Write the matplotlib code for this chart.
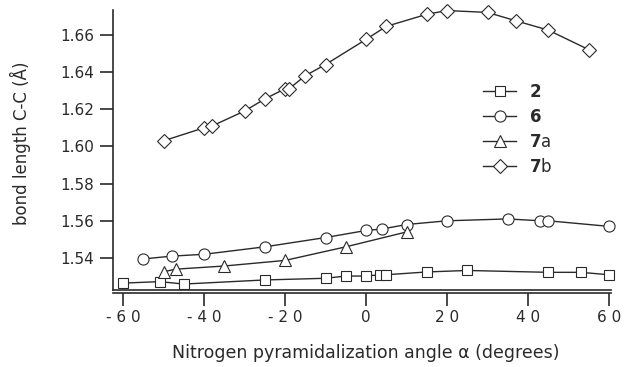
import matplotlib
matplotlib.use("Agg")
import matplotlib.pyplot as plt

plt.rcParams['font.family'] = ['DejaVu Sans']
plt.rcParams['mathtext.fontset'] = 'dejavusans'

# valeurs
angle_2 = [-60, -51, -45, -25, -10, -5, 0, 3.5, 5, 15, 25, 45, 53, 60]
bond_2 = [1.5265, 1.5273, 1.526, 1.5282, 1.5291, 1.5303, 1.5303, 1.531, 1.531,
          1.5325, 1.5333, 1.5323, 1.5323, 1.531]

angle_6 = [-55, -48, -40, -25, -10, 0, 4, 10, 20, 35, 43, 45, 60]
bond_6 = [1.5395, 1.541, 1.542, 1.546, 1.551, 1.5548, 1.5556, 1.558, 1.560,
          1.561, 1.560, 1.560, 1.557]

angle_7a = [-50, -47, -35, -20, -5, 10]
bond_7a = [1.5326, 1.534, 1.5357, 1.5387, 1.546, 1.554]

angle_7b = [-50, -40, -38, -30, -25, -20, -19, -15, -10, 0, 5, 15, 20, 30, 37, 45, 55]
bond_7b = [1.603, 1.610, 1.611, 1.619, 1.6255, 1.631, 1.631, 1.638, 1.644,
           1.6575, 1.6645, 1.671, 1.673, 1.672, 1.6675, 1.6625, 1.652]

x_ticks = [-60, -40, -20, 0, 20, 40, 60]
x_labels = ['- 6 0', '- 4 0', '- 2 0', '0', '2 0', '4 0', '6 0']
y_ticks = [1.54, 1.56, 1.58, 1.60, 1.62, 1.64, 1.66]
y_labels = ['1.54', '1.56', '1.58', '1.60', '1.62', '1.64', '1.66']

fig = plt.figure(figsize=(6.24, 3.67), dpi=100)
ax = fig.add_axes([113 / 624, 1 - 290 / 367, 498 / 624, 280 / 367])

col = '#2a2a2a'
style = dict(color=col, lw=1.0, mfc='white', mec=col, mew=0.8, clip_on=False)
ax.plot(angle_2, bond_2, marker='s', ms=7.5, label=r'$\mathbf{2}$', **style)
ax.plot(angle_6, bond_6, marker='o', ms=8.0, label=r'$\mathbf{6}$', **style)
ax.plot(angle_7a, bond_7a, marker='^', ms=8.0, label=r'$\mathbf{7}$a', **style)
ax.plot(angle_7b, bond_7b, marker='D', ms=7.0, label=r'$\mathbf{7}$b', **style)

ax.set_xlim(-62.5, 60.5)
ax.set_ylim(1.5228, 1.6733)
ax.set_xticks(x_ticks)
ax.set_xticklabels(x_labels)
ax.set_yticks(y_ticks)
ax.set_yticklabels(y_labels)

ax.spines['top'].set_visible(False)
ax.spines['right'].set_visible(False)
ax.spines['bottom'].set_position(('outward', 2.2))
for s in ['left', 'bottom']:
    ax.spines[s].set_linewidth(1.2)
    ax.spines[s].set_color(col)
ax.axhline(1.5228, color=col, lw=1.2, clip_on=False)

ax.tick_params(axis='both', direction='out', length=9.5, width=1.2, color=col,
               labelsize=11, labelcolor=col, pad=3)
ax.tick_params(axis='y', pad=4)

ax.set_xlabel('Nitrogen pyramidalization angle α (degrees)', fontsize=12.5, color=col)
ax.xaxis.set_label_coords(0.508, -0.193)
ax.set_ylabel('bond length C-C (Å)', fontsize=12, color=col)
ax.yaxis.set_label_coords(-0.165, 0.525)

leg = ax.legend(loc='upper left', bbox_to_anchor=(483 / 624, 1 - 83 / 367),
                bbox_transform=fig.transFigure, frameon=False, fontsize=12,
                handlelength=2.0, handletextpad=0.75, labelspacing=0.42,
                borderpad=0, borderaxespad=0)
for t in leg.get_texts():
    t.set_color(col)

fig.savefig('out.png', dpi=100)
